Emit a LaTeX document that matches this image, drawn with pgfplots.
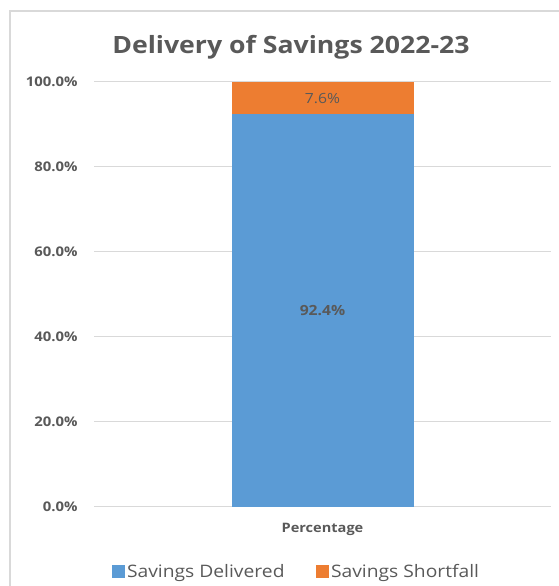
\documentclass[border=0pt]{standalone}
\usepackage{pgfplots}
\pgfplotsset{compat=1.18}
\usepackage{fontspec}
\setmainfont[FakeStretch=1.12]{Open Sans}
\definecolor{cblue}{HTML}{5B9BD5}
\definecolor{corange}{HTML}{ED7D31}
\definecolor{ctext}{HTML}{595959}
\definecolor{cgrid}{HTML}{D9D9D9}
\begin{document}
\begin{tikzpicture}
\useasboundingbox (0,0) rectangle (559pt,586pt);
\draw[cgrid, line width=1.2pt] (10pt,-5pt) -- (10pt,575pt) -- (565pt,575pt);
\begin{axis}[
  at={(94pt,79pt)}, anchor=south west,
  scale only axis, width=457pt, height=425pt,
  ybar stacked, bar width=182pt,
  xmin=-1, xmax=1, ymin=0, ymax=100,
  xtick={0}, xticklabels={Percentage},
  ytick={0,20,40,60,80,100},
  /pgf/number format/assume math mode=true,
  yticklabel={\pgfmathprintnumber[fixed,fixed zerofill,precision=1]{\tick}\%},
  axis line style={draw=none},
  ymajorgrids, major grid style={cgrid, line width=1pt},
  tick style={draw=none},
  yticklabel style={font=\fontsize{13.3}{15}\selectfont\bfseries, text=ctext, xshift=-13pt},
  xticklabel style={font=\fontsize{13}{15}\selectfont\bfseries, text=ctext, yshift=-13pt},
  title={Delivery of Savings 2022-23},
  title style={at={(axis description cs:0.431,1.052)}, anchor=base, yshift=0pt, font=\fontsize{23.8}{28}\selectfont\bfseries, text=ctext},
  legend style={at={(axis description cs:0.4427,-0.153)}, anchor=center, draw=none, fill=none, font=\fontsize{17.2}{20}\selectfont, text=ctext, /tikz/every even column/.append style={column sep=29pt}},
  legend columns=2,
  legend image code/.code={\fill[#1] (-1pt,-6pt) rectangle (12.5pt,7.5pt);},
  point meta=explicit,
  nodes near coords={\pgfmathprintnumber[fixed,fixed zerofill,precision=1]{\pgfplotspointmeta}\%},
]
\addplot[fill=cblue, draw=none, every node near coord/.append style={anchor=center, font=\fontsize{14}{16}\selectfont\bfseries, text=ctext}] coordinates {(0,92.4) [92.4]};
\addlegendentry{Savings Delivered}
\addplot[fill=corange, draw=none, every node near coord/.append style={anchor=center, font=\fontsize{14}{16}\selectfont, text=ctext}] coordinates {(0,7.6) [7.6]};
\addlegendentry{Savings Shortfall}
\end{axis}
\end{tikzpicture}
\end{document}
